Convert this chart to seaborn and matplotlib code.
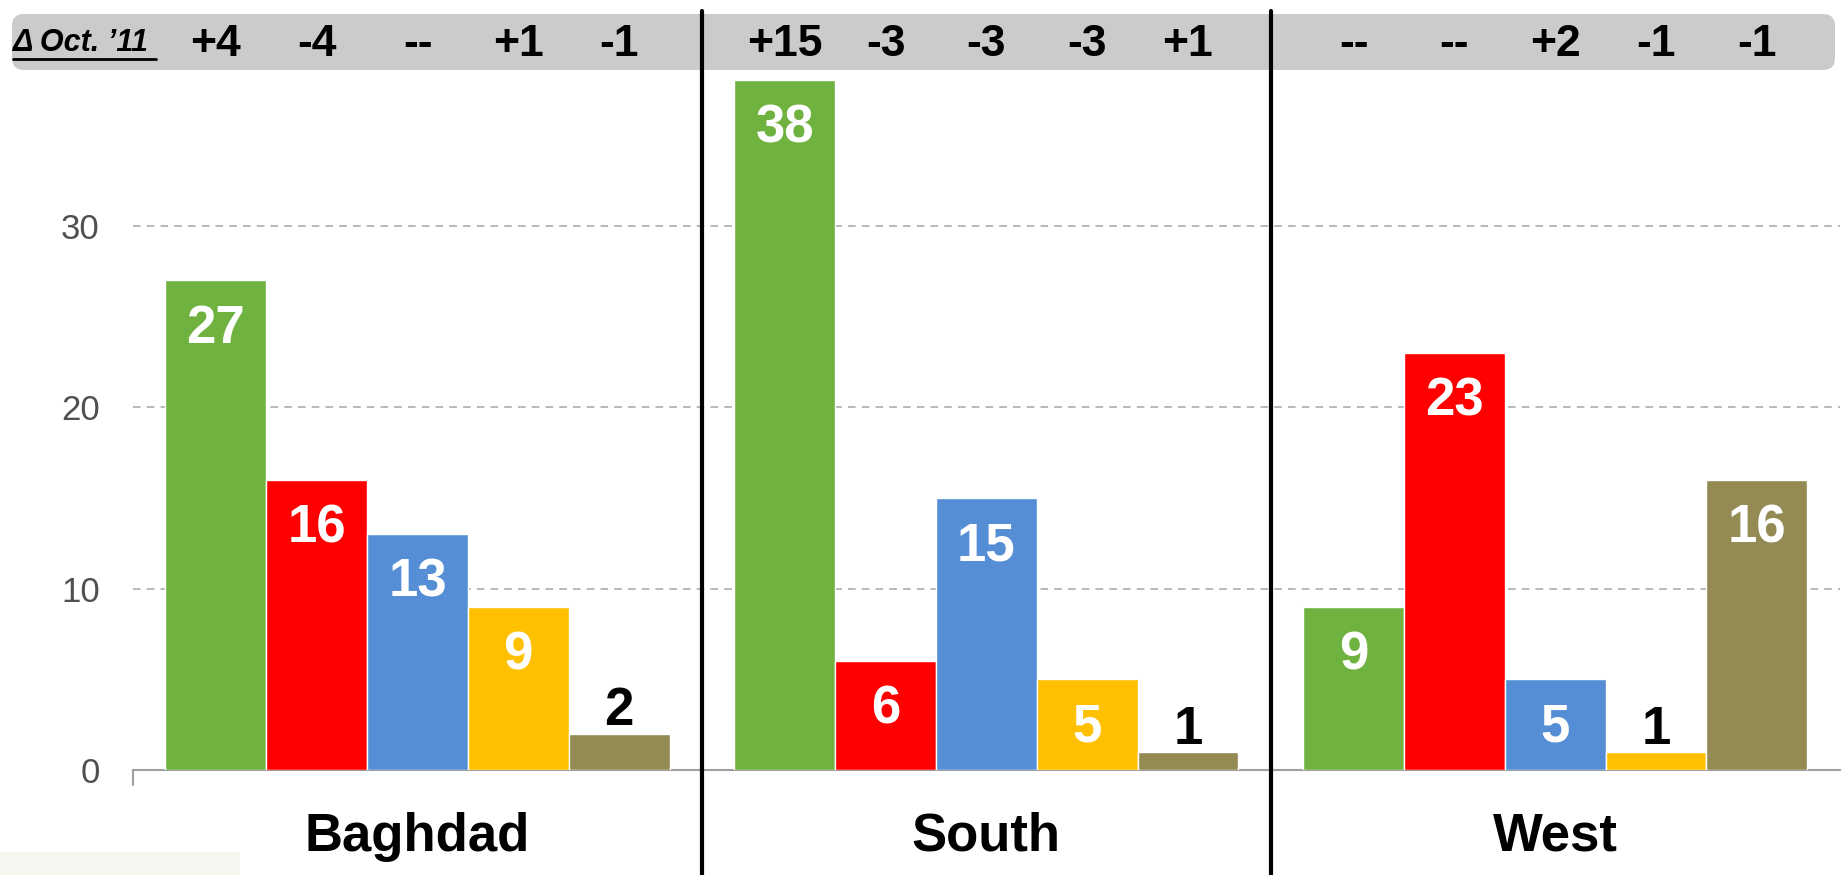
import pandas as pd
import matplotlib.pyplot as plt
import matplotlib.transforms as mtransforms
from matplotlib.patches import FancyBboxPatch, Rectangle
import seaborn as sns

regions = ["Baghdad", "South", "West"]
series = ["s1", "s2", "s3", "s4", "s5"]
values = {
    "Baghdad": [27, 16, 13, 9, 2],
    "South": [38, 6, 15, 5, 1],
    "West": [9, 23, 5, 1, 16],
}
changes = {
    "Baghdad": ["+4", "-4", "--", "+1", "-1"],
    "South": ["+15", "-3", "-3", "-3", "+1"],
    "West": ["--", "--", "+2", "-1", "-1"],
}
colors = ["#70B240", "#FF0000", "#558ED5", "#FFC000", "#948A54"]
yticks = [0, 10, 20, 30]

rows = []
for r in regions:
    for s, v in zip(series, values[r]):
        rows.append({"region": r, "series": s, "value": v})
df = pd.DataFrame(rows)

sns.set_style("white")
plt.rcParams["font.family"] = ["Liberation Sans", "DejaVu Sans"]

fig = plt.figure(figsize=(18.43, 8.75), dpi=100)

# header band (behind a transparent axes)
band = FancyBboxPatch((0.12, 8.05), 18.23, 0.56,
                      boxstyle="round,pad=0,rounding_size=0.12",
                      transform=fig.dpi_scale_trans, facecolor="#CBCBCB",
                      edgecolor="none", zorder=0)
fig.add_artist(band)

ax = fig.add_axes([0.0722, 0.12, 0.926, 0.8297])
ax.set_facecolor("none")

sns.barplot(data=df, x="region", y="value", hue="series", order=regions,
            hue_order=series, palette=colors, width=0.886, gap=0,
            saturation=1, legend=False, ax=ax, zorder=3)

ax.set_xlim(-0.5, 2.5)
ax.set_ylim(0, 40)
ax.set_yticks(yticks)
ax.set_yticklabels([str(t) for t in yticks], fontsize=25, color="#505050")
ax.tick_params(axis="y", length=0, pad=24)
ax.tick_params(axis="x", length=0, pad=30)
ax.set_xticks(range(len(regions)))
ax.set_xticklabels(regions, fontsize=38, fontweight="bold", color="black")
ax.set_xlabel("")
ax.set_ylabel("")

for t in yticks[1:]:
    ax.axhline(t, color="#A6A6A6", lw=1.1, dashes=(5, 4), zorder=1)

for side in ["left", "top", "right"]:
    ax.spines[side].set_visible(False)
ax.spines["bottom"].set_color("#A0A0A0")
ax.spines["bottom"].set_linewidth(1.5)
ax.plot([-0.5, -0.5], [0, -0.02], transform=mtransforms.blended_transform_factory(ax.transData, ax.transAxes),
        color="#A0A0A0", lw=1.5, clip_on=False)

# bar value labels
for cont in ax.containers:
    for bar in cont:
        h = bar.get_height()
        xc = bar.get_x() + bar.get_width() / 2
        if h > 3:
            ax.annotate(f"{h:.0f}", (xc, h), xytext=(0, -35), textcoords="offset points",
                        ha="center", va="center", fontsize=38, fontweight="bold",
                        color="white", zorder=5)
        else:
            ax.annotate(f"{h:.0f}", (xc, h), xytext=(0, 16), textcoords="offset points",
                        ha="center", va="center", fontsize=38, fontweight="bold",
                        color="black", zorder=5)

# divider lines
for xd in [0.5, 1.5]:
    ax.axvline(xd, ymin=-0.15, ymax=1.045, color="black", lw=3, clip_on=False, zorder=6)

narrow = ["Liberation Sans Narrow", "Liberation Sans", "DejaVu Sans"]
fig.text(0.0068, 0.951, "Δ Oct. ’11", fontsize=22, fontweight="bold", style="italic",
         family=narrow, ha="left", va="center", color="black")
fig.add_artist(plt.Line2D([0.0068, 0.0848], [0.933, 0.933], transform=fig.transFigure,
                          color="black", lw=2))

trans = mtransforms.blended_transform_factory(ax.transData, fig.transFigure)
for i, cont in enumerate(ax.containers):
    for j, bar in enumerate(cont):
        xc = bar.get_x() + bar.get_width() / 2
        ax.text(xc, 0.949, changes[regions[j]][i], transform=trans, fontsize=32,
                fontweight="bold", family=narrow, ha="center", va="center",
                color="black", clip_on=False)

fig.add_artist(Rectangle((0, 0), 0.13, 0.026, transform=fig.transFigure,
                         facecolor="#F7F5F0", edgecolor="none"))

fig.savefig("out.png", dpi=100)
